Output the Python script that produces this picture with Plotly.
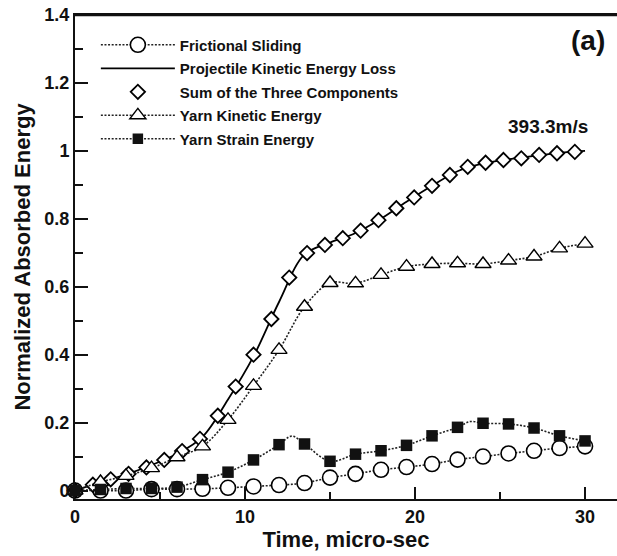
import plotly.graph_objects as go

# ---- data ----
time = [0, 1.5, 3, 4.5, 6, 7.5, 9, 10.5, 12, 13.5, 15, 16.5, 18, 19.5, 21, 22.5, 24, 25.5, 27, 28.5, 30]
frictional = [0, 0, 0, 0.004, 0.004, 0.005, 0.008, 0.012, 0.016, 0.022, 0.038, 0.049, 0.061,
              0.069, 0.078, 0.091, 0.100, 0.109, 0.117, 0.125, 0.130]
proj_loss = [0, 0.025, 0.047, 0.075, 0.108, 0.158, 0.268, 0.395, 0.555, 0.695, 0.730, 0.758,
             0.800, 0.850, 0.897, 0.940, 0.963, 0.975, 0.985, 0.994, 1.000]
yarn_ke = [0, 0.025, 0.043, 0.066, 0.098, 0.130, 0.208, 0.308, 0.414, 0.541, 0.611, 0.610,
           0.635, 0.659, 0.667, 0.669, 0.667, 0.677, 0.689, 0.713, 0.727]
# strain-energy curve: marker points plus two curve points read between markers (peaks)
strain_time = [0, 1.5, 3, 4.5, 6, 7.5, 9, 10.5, 12, 12.75, 13.5, 15, 16.5, 18, 19.5, 21, 22.5,
               23.25, 24, 25.5, 27, 28.5, 30]
yarn_strain = [0, 0.003, 0.006, 0.006, 0.010, 0.032, 0.054, 0.090, 0.135, 0.160, 0.137, 0.086,
               0.107, 0.117, 0.133, 0.161, 0.186, 0.203, 0.198, 0.196, 0.184, 0.161, 0.146]
strain_has_marker = [1, 1, 1, 1, 1, 1, 1, 1, 1, 0, 1, 1, 1, 1, 1, 1, 1, 0, 1, 1, 1, 1, 1]
sum_time = [0, 1.05, 2.1, 3.15, 4.2, 5.25, 6.3, 7.35, 8.4, 9.45, 10.5, 11.55, 12.6, 13.65, 14.7,
            15.75, 16.8, 17.85, 18.9, 19.95, 21.0, 22.05, 23.1, 24.15, 25.2, 26.25, 27.3, 28.35, 29.4]
sum_three = [0, 0.017, 0.033, 0.049, 0.068, 0.090, 0.116, 0.152, 0.220, 0.306, 0.400, 0.505, 0.627,
             0.699, 0.723, 0.743, 0.765, 0.796, 0.831, 0.863, 0.897, 0.929, 0.953, 0.965, 0.973,
             0.978, 0.988, 0.993, 0.997]

x_ticks = [0, 10, 20, 30]
y_ticks = [0, 0.2, 0.4, 0.6, 0.8, 1.0, 1.2, 1.4]
y_ticktext = ["0", "0.2", "0.4", "0.6", "0.8", "1", "1.2", "1.4"]
x_range = [0, 31.88]
y_range = [-0.025, 1.4]

FONT = "Liberation Sans, Arial, sans-serif"
DOT = "2px,1.6px"
LC = "#222"
SQ = 11.5

fig = go.Figure()
fig.add_trace(go.Scatter(
    x=time, y=frictional, name="Frictional Sliding", mode="lines+markers", legendgroup="a",
    line=dict(color=LC, width=1.6, dash=DOT, shape="spline"),
    marker=dict(symbol="circle", size=15, color="white", line=dict(color="black", width=1.6)),
    cliponaxis=False))
fig.add_trace(go.Scatter(
    x=time, y=proj_loss, name="Projectile Kinetic Energy Loss", mode="lines", legendgroup="b",
    line=dict(color="black", width=1.8, shape="spline"), cliponaxis=False))
fig.add_trace(go.Scatter(
    x=sum_time, y=sum_three, name="Sum of the Three Components", mode="markers", legendgroup="c",
    marker=dict(symbol="diamond", size=11, color="white", line=dict(color="black", width=1.8)),
    cliponaxis=False))
fig.add_trace(go.Scatter(
    x=time, y=yarn_ke, name="Yarn Kinetic Energy", mode="lines+markers", legendgroup="d",
    line=dict(color=LC, width=1.6, dash=DOT, shape="spline"),
    marker=dict(symbol="triangle-up", size=14, color="white", line=dict(color="black", width=1.4)),
    cliponaxis=False))
fig.add_trace(go.Scatter(
    x=strain_time, y=yarn_strain, name="Yarn Strain Energy", mode="lines+markers", legendgroup="e",
    line=dict(color=LC, width=1.6, dash=DOT, shape="spline"),
    marker=dict(symbol="square", size=[SQ * m for m in strain_has_marker], color="#111",
                opacity=1, line=dict(color="#111", width=0)),
    cliponaxis=False))

fig.update_layout(
    width=617, height=556,
    margin=dict(l=75, r=0, t=15, b=57),
    paper_bgcolor="white", plot_bgcolor="white",
    font=dict(family=FONT, color="#111", weight="bold"),
    showlegend=True,
    legend=dict(x=0.0385, y=0.972, xanchor="left", yanchor="top", traceorder="grouped",
                font=dict(size=15, family=FONT, weight="bold", color="#111"),
                bgcolor="rgba(0,0,0,0)", itemwidth=74, tracegroupgap=1),
    xaxis=dict(range=x_range, tickvals=x_ticks, ticks="inside", ticklen=12, tickwidth=1.5,
               tickcolor="#111", showline=True, linecolor="#111", linewidth=2, mirror=True,
               showgrid=False, zeroline=False, automargin=False, ticklabeloverflow="allow",
               minor=dict(ticks="inside", ticklen=7, tickwidth=1.5, tickcolor="#111", dtick=5, tick0=0),
               tickfont=dict(size=18, family=FONT, weight="bold", color="#111"),
               title=dict(text="Time, micro-sec", font=dict(size=22, family=FONT, weight="bold", color="#111"),
                          standoff=6)),
    yaxis=dict(range=y_range, tickvals=y_ticks, ticktext=y_ticktext,
               ticks="inside", ticklen=13, tickwidth=1.5,
               tickcolor="#111", showline=True, linecolor="#111", linewidth=2, mirror=False,
               showgrid=False, zeroline=False, automargin=False, ticklabeloverflow="allow",
               minor=dict(ticks="inside", ticklen=8, tickwidth=1.5, tickcolor="#111", dtick=0.1, tick0=0),
               tickfont=dict(size=18, family=FONT, weight="bold", color="#111"),
               title=dict(text="Normalized Absorbed Energy", font=dict(size=22, family=FONT, weight="bold", color="#111"),
                          standoff=8)),
    # top frame line of the plot box
    shapes=[dict(type="line", xref="x", yref="y", x0=x_range[0], x1=x_range[1],
                 y0=y_range[1], y1=y_range[1], line=dict(color="#111", width=2.5), layer="above")],
    annotations=[
        dict(x=30.18, y=1.326, xref="x", yref="y", text="(a)", showarrow=False,
             font=dict(size=28, family=FONT, weight="bold", color="#111")),
        dict(x=27.8, y=1.073, xref="x", yref="y", text="393.3m/s", showarrow=False,
             font=dict(size=19, family=FONT, weight="bold", color="#111")),
    ],
)

# remove the browser's default 8px page margin so the figure fills the window exactly
fig.write_html("out.html", config={"displayModeBar": False},
               post_script="document.body.style.margin='0';")
